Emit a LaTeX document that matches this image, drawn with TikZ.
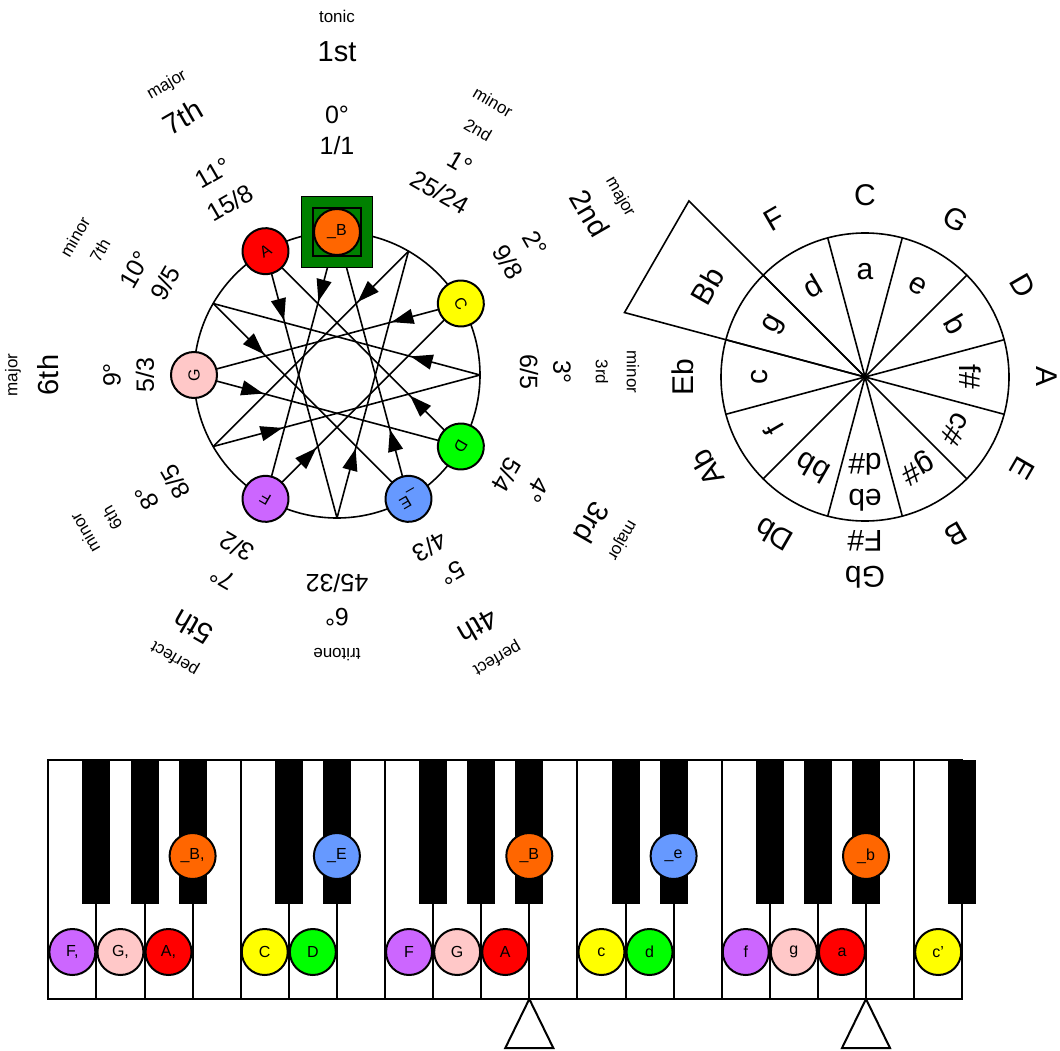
\documentclass[tikz,border=0pt]{standalone}
\usepackage{fontspec}
\setmainfont{Liberation Sans}
\usepackage{tikz}
\usetikzlibrary{arrows.meta}
\usetikzlibrary{decorations.markings}

\definecolor{notered}{HTML}{FF0000}
\definecolor{noteorange}{HTML}{FF6600}
\definecolor{noteyellow}{HTML}{FFFF00}
\definecolor{notegreen}{HTML}{00FF00}
\definecolor{noteblue}{HTML}{6699FF}
\definecolor{notepurple}{HTML}{CC66FF}
\definecolor{notepink}{HTML}{FFC8C8}
\definecolor{tonicgreen}{HTML}{008000}

\tikzset{
  wire/.style={line width=1.6pt},
  fifth/.style={wire, postaction={decorate},
    decoration={markings,
      mark=at position 0.26 with {\arrow{Triangle[length=22pt,width=15pt]}}}},
  note/.style={circle, draw, line width=2pt, minimum size=46pt, inner sep=0pt,
    font=\fontsize{16}{18}\selectfont},
  lbl/.style={inner sep=0pt, font=\fontsize{#1}{#1}\selectfont},
  keytext/.style={inner sep=0pt, align=center, font=\fontsize{30}{36}\selectfont},
  keyline/.style={line width=2pt}
}

\begin{document}
\begin{tikzpicture}[x=1pt, y=-1pt]
\useasboundingbox (0,0) rectangle (1060,1051);

% chromatic circle
\coordinate (L) at (337,375);
\draw[wire] (L) circle [radius=143pt];
\foreach \k in {0,...,11}
  \coordinate (p\k) at ({337+143*cos(90-30*\k)},{375-143*sin(90-30*\k)});
\foreach \k in {0,...,11}{
  \pgfmathtruncatemacro{\j}{mod(\k+7,12)}
  \draw[fifth] (p\k) -- (p\j);
}
\node[draw, fill=tonicgreen, line width=1.6pt, minimum size=71pt, inner sep=0pt] (tonicbox) at (p0) {};
\node[draw, fill=tonicgreen, line width=1.6pt, minimum size=48pt, inner sep=0pt] (tonicinner) at (p0) {};
\foreach \k/\n/\c in {0/\_B/noteorange, 2/C/noteyellow, 4/D/notegreen, 5/\_E/noteblue,
                      7/F/notepurple, 9/G/notepink, 11/A/notered}
  \node[note, fill=\c, rotate=-30*\k] (n\k) at (p\k) {\n};

% interval labels
\foreach \x/\y/\r/\s/\t [count=\i] in {
  337/16/0/17/tonic, 337/52/0/29/1st, 337/115/0/25/0°, 337/146/0/25/{1/1},
  493/102/-30/17/minor, 478/130/-30/17/2nd, 460/163/-30/25/1°, 440/192/-30/25/{25/24},
  620/197/-60/17/major, 590/213/-60/29/2nd, 535/243/-60/25/2°, 508/262/-60/25/{9/8},
  633/372/-90/17/minor, 602/372/-90/17/3rd, 562/372/-90/25/3°, 529/372/-90/25/{6/5},
  507/475/-120/25/{5/4}, 537/490/-120/25/4°, 592/523/-120/29/3rd, 622/540/-120/17/major,
  430/547/-150/25/{4/3}, 452/573/-150/25/5°, 478/627/-150/29/4th, 497/658/-150/17/perfect,
  337/583/180/25/{45/32}, 337/617/180/25/6°, 337/655/180/17/tritone,
  237/547/150/25/{3/2}, 223/578/150/25/7°, 193/627/150/29/5th, 175/658/150/17/perfect,
  175/482/120/25/{8/5}, 147/497/120/25/8°, 112/518/120/17/6th, 85/533/120/17/minor,
  145/375/90/25/{5/3}, 112/375/90/25/9°, 48/375/90/29/6th, 13/375/90/17/major,
  165/283/60/25/{9/5}, 135/270/60/25/10°, 100/250/60/17/7th, 75/237/60/17/minor,
  230/203/30/25/{15/8}, 213/173/30/25/11°, 183/117/30/29/7th, 167/85/30/17/major}
  \node[lbl=\s, rotate=\r] (iv\i) at (\x,\y) {\t};

% circle of fifths
\coordinate (S) at (865,377);
\coordinate (bbout) at ({865+249*cos(135)},{377-249*sin(135)});
\coordinate (ebout) at ({865+249*cos(165)},{377-249*sin(165)});
\draw[wire] (S) -- (bbout) -- (ebout) -- cycle;
\draw[wire] (S) circle [radius=144pt];
\foreach \a in {15,45,...,345}{
  \coordinate (rim\a) at ({865+144*cos(\a)},{377-144*sin(\a)});
  \draw[wire] (S) -- (rim\a);
}
\foreach \t [count=\j from 0] in {a,e,b,f\#,c\#,g\#,{eb\\d\#},bb,f,c,g,d}
  \node[keytext, rotate=-30*\j] (mn\j) at ({865+105*cos(90-30*\j)},{377-105*sin(90-30*\j)}) {\t};
\foreach \t [count=\j from 0] in {C,G,D,A,E,B,{Gb\\F\#},Db,Ab,Eb,Bb,F}
  \node[keytext, rotate=-30*\j] (mj\j) at ({865+182*cos(90-30*\j)},{377-182*sin(90-30*\j)}) {\t};

% keyboard
\foreach \i in {0,...,18}
  \draw[keyline, fill=white] ({48.3+48.1*\i},760) rectangle ++(48.1,239);
\foreach \b in {1,2,3,5,6,8,9,10,12,13,15,16,17,19}
  \fill ({48.3+48.1*\b-14},760) rectangle ++(28,144);
\foreach \b in {10,17}
  \draw[keyline, fill=white] ({48.3+48.1*\b},999) -- ++(-24,49) -- ++(48,0) -- cycle;
\foreach \i/\n/\c in {0/{F,}/notepurple, 1/{G,}/notepink, 2/{A,}/notered,
                      4/C/noteyellow, 5/D/notegreen,
                      7/F/notepurple, 8/G/notepink, 9/A/notered,
                      11/c/noteyellow, 12/d/notegreen,
                      14/f/notepurple, 15/g/notepink, 16/a/notered, 18/c'/noteyellow}
  \node[note, fill=\c] (w\i) at ({48.3+48.1*(\i+0.5)},952) {\n};
\foreach \b/\n/\c in {3/{\_B,}/noteorange, 6/\_E/noteblue, 10/\_B/noteorange,
                      13/\_e/noteblue, 17/\_b/noteorange}
  \node[note, fill=\c] (k\b) at ({48.3+48.1*\b},856) {\n};
\end{tikzpicture}
\end{document}
